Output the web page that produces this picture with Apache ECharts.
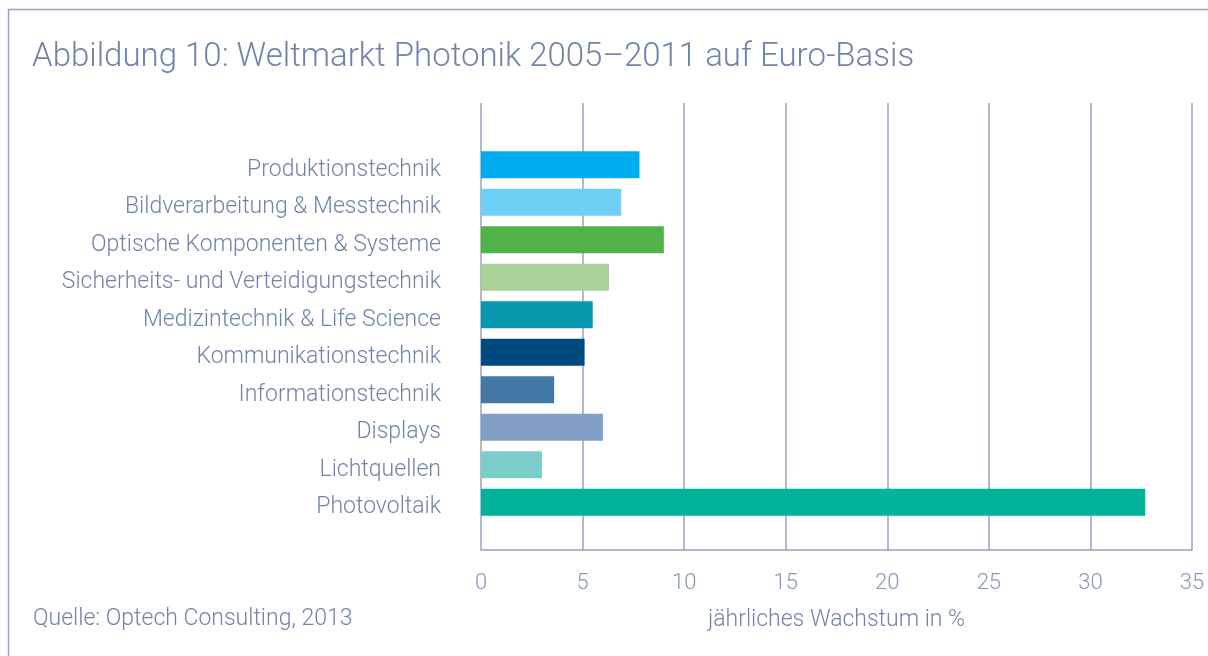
<!DOCTYPE html>
<html><head><meta charset="utf-8">
<script src="https://cdn.jsdelivr.net/npm/echarts@6/dist/echarts.min.js"></script>
<style>html,body{margin:0;padding:0;background:#fff}#c{width:1208px;height:656px}</style>
</head><body><div id="c"></div>
<script>
const categories = ["Produktionstechnik","Bildverarbeitung & Messtechnik","Optische Komponenten & Systeme","Sicherheits- und Verteidigungstechnik","Medizintechnik & Life Science","Kommunikationstechnik","Informationstechnik","Displays","Lichtquellen","Photovoltaik"];
const values = [7.8, 6.9, 9.0, 6.3, 5.5, 5.1, 3.6, 6.0, 3.0, 32.7];
const barColors = ["#00aeef","#6dcff6","#50b247","#abd19a","#0899b1","#004a7f","#4277a6","#829fc5","#7bcdc9","#00b49b"];
const xTicks = [0,5,10,15,20,25,30,35];
const title = "Abbildung 10: Weltmarkt Photonik 2005–2011 auf Euro-Basis";
const source = "Quelle: Optech Consulting, 2013";
const xName = "jährliches Wachstum in %";

const FONT = "Roboto";
const TXT = "#7084a9";
const LINE = "#97a3bf";
const chart = echarts.init(document.getElementById('c'), null, {renderer:'canvas'});
chart.setOption({
  animation:false,
  backgroundColor:'#fff',
  title:{text:title,left:27,top:36,textStyle:{fontFamily:FONT,fontWeight:300,fontSize:33,color:TXT}},
  graphic:[
    {type:'rect',shape:{x:8.5,y:9.5,width:1300,height:700},style:{fill:null,stroke:'#96a2bd',lineWidth:1.5}},
    {type:'text',left:33,top:608,style:{text:source,fontFamily:FONT,fontWeight:300,fontSize:23,fill:TXT}}
  ],
  grid:[
    {left:481,right:16,top:103,bottom:106},
    {left:481,right:16,top:146,bottom:135}
  ],
  xAxis:[
    {gridIndex:0,type:'value',min:xTicks[0],max:xTicks[xTicks.length-1],interval:5,
     axisLine:{show:true,lineStyle:{color:LINE,width:1.5}},axisTick:{show:false},
     axisLabel:{margin:22,fontFamily:FONT,fontWeight:300,fontSize:22,color:'#8797b8'},
     splitLine:{show:true,lineStyle:{color:LINE,width:1.5}},
     name:xName,nameLocation:'middle',nameGap:59,
     nameTextStyle:{fontFamily:FONT,fontWeight:300,fontSize:23,color:TXT}},
    {gridIndex:1,type:'value',min:0,max:35,show:false}
  ],
  yAxis:[
    {gridIndex:0,type:'value',show:false},
    {gridIndex:1,type:'category',data:categories,inverse:true,
     axisLine:{show:false},axisTick:{show:false},splitLine:{show:false},
     axisLabel:{margin:40,formatter:'{a|{value}}',
       rich:{a:{fontFamily:FONT,fontWeight:300,fontSize:23,color:TXT,padding:[10,0,0,0]}}}}
  ],
  series:[{type:'bar',xAxisIndex:1,yAxisIndex:1,barWidth:27,
    data:values.map((v,i)=>({value:v,itemStyle:{color:barColors[i]}}))}]
});
</script></body></html>
